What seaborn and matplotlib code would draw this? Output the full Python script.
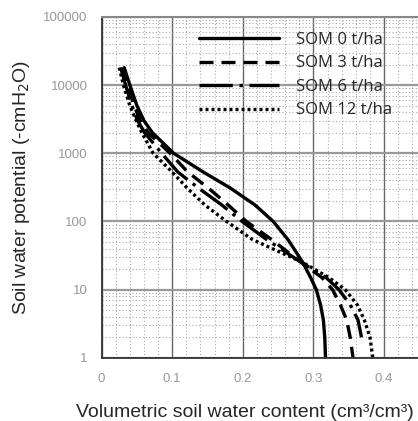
import numpy as np
import pandas as pd
import matplotlib
matplotlib.use("Agg")
import matplotlib.pyplot as plt
import seaborn as sns
from matplotlib.ticker import LogLocator, FixedLocator, NullFormatter

potential = [18000, 10000, 5000, 3000, 2000, 1000, 530, 310, 175, 100, 54, 25, 15, 10, 6, 3.6, 2, 1]
som0 = [0.032, 0.040, 0.050, 0.060, 0.072, 0.102, 0.144, 0.182, 0.217, 0.243, 0.264, 0.285, 0.296, 0.304, 0.310, 0.314, 0.316, 0.317]
som3 = [0.029, 0.037, 0.046, 0.055, 0.066, 0.097, 0.122, 0.151, 0.179, 0.205, 0.241, 0.283, 0.312, 0.327, 0.338, 0.347, 0.352, 0.356]
som6 = [0.027, 0.034, 0.043, 0.051, 0.061, 0.085, 0.108, 0.137, 0.170, 0.199, 0.234, 0.283, 0.318, 0.336, 0.352, 0.363, 0.368, 0.371]
som12 = [0.025, 0.031, 0.040, 0.049, 0.057, 0.073, 0.100, 0.121, 0.146, 0.177, 0.214, 0.285, 0.322, 0.345, 0.362, 0.372, 0.380, 0.384]
labels = ["SOM 0 t/ha", "SOM 3 t/ha", "SOM 6 t/ha", "SOM 12 t/ha"]
xticks = [0, 0.1, 0.2, 0.3, 0.4]
xticklabels = ["0", "0.1", "0.2", "0.3", "0.4"]
yticks = [1, 10, 100, 1000, 10000, 100000]
yticklabels = ["1", "10", "100", "1000", "10000", "100000"]

rows = []
for lab, vals in zip(labels, [som0, som3, som6, som12]):
    for i, (h, t) in enumerate(zip(potential, vals)):
        if lab == "SOM 6 t/ha" and h < 1.4:
            continue
        rows.append({"theta": t, "h": h, "series": lab, "order": i})
df = pd.DataFrame(rows)

sns.set_style("white")
plt.rcParams["font.family"] = ["Liberation Sans", "DejaVu Sans"]

fig = plt.figure(figsize=(4.18, 4.21), dpi=100)
ax = fig.add_axes([0.243, 0.150, 0.757, 0.810])

dashes = {
    "SOM 0 t/ha": "",
    "SOM 3 t/ha": (4.2, 2.4),
    "SOM 6 t/ha": (10, 2, 1, 2),
    "SOM 12 t/ha": (0.9, 0.9),
}
sns.lineplot(data=df, x="theta", y="h", hue="series", style="series",
             palette=["black"] * 4, dashes=dashes, sort=False,
             estimator=None, linewidth=2.4, ax=ax, legend=True)

ax.set_yscale("log")
ax.set_xlim(0, 0.448)
ax.set_ylim(1, 100000)

# grid
ax.xaxis.set_major_locator(FixedLocator(xticks))
ax.xaxis.set_minor_locator(FixedLocator(list(np.arange(0.02, 0.448, 0.02))))
ax.yaxis.set_major_locator(FixedLocator(yticks))
ax.yaxis.set_minor_locator(LogLocator(base=10, subs=np.arange(2, 10), numticks=20))
ax.yaxis.set_minor_formatter(NullFormatter())
ax.set_axisbelow(True)
ax.grid(which="major", axis="x", color="#666666", linewidth=1.0)
ax.grid(which="major", axis="y", color="#999999", linewidth=1.6)
ax.grid(which="minor", axis="both", color="#aaaaaa", linewidth=0.8, linestyle=(0, (1, 2)))

ax.set_xticklabels(xticklabels)
ax.set_yticklabels(yticklabels)
ax.tick_params(axis="both", which="both", length=0, labelsize=9.5, labelcolor="#999999")
ax.tick_params(axis="x", pad=11)
ax.tick_params(axis="y", pad=10)

for s in ["left", "bottom"]:
    ax.spines[s].set_color("#333333")
    ax.spines[s].set_linewidth(1.3)
ax.spines["top"].set_color("#888888")
ax.spines["top"].set_linewidth(1.5)
ax.spines["right"].set_visible(False)

ax.set_xlabel("Volumetric soil water content (cm³/cm³)", fontsize=14, labelpad=10)
ax.xaxis.set_label_coords(0.452, -0.135)
ax.set_ylabel("Soil water potential (-cmH$_2$O)", fontsize=14, labelpad=8)

leg = ax.legend(loc="upper left", bbox_to_anchor=(0.26, 1.0), frameon=False,
                handlelength=4.8, handletextpad=1.0, labelspacing=0.45,
                prop={"family": "Open Sans", "size": 12})
for line in leg.get_lines():
    line.set_linewidth(2.4)

fig.savefig("out.png", dpi=100)
